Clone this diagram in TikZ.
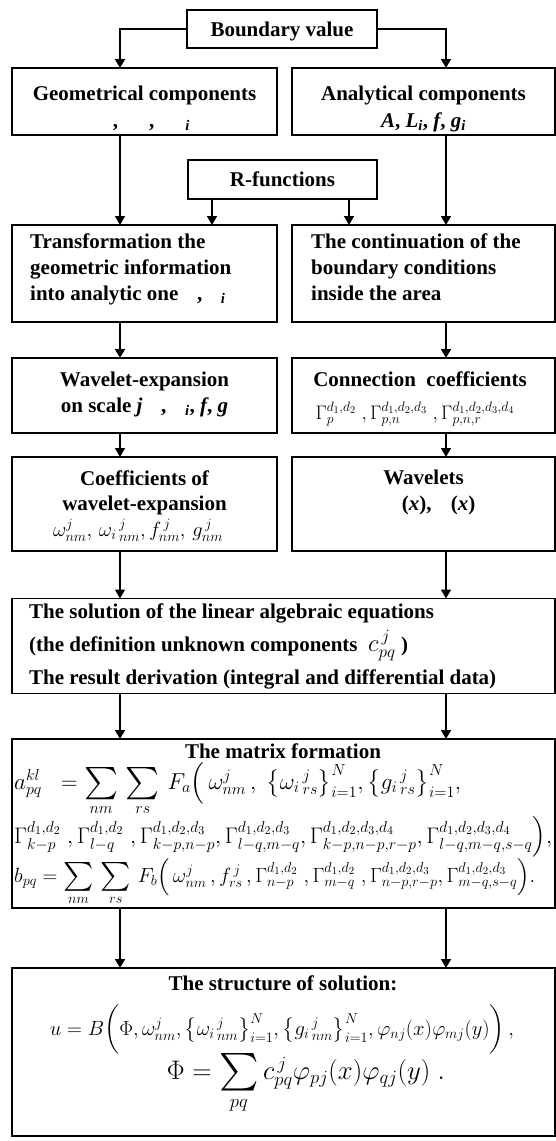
\documentclass[tikz,border=0pt]{standalone}
\usepackage{amsmath}
\usepackage[no-math]{fontspec}
\setmainfont{Liberation Serif}
\usetikzlibrary{arrows.meta}
\tikzset{
  box/.style={draw, line width=1.6pt, inner sep=0pt, outer sep=0pt},
  arr/.style={line width=1.6pt, -{Triangle[length=9pt,width=10pt]}},
  btxt/.style={font=\fontsize{21}{26}\selectfont\bfseries, inner sep=0pt},
  mtxt/.style={font=\fontsize{21}{26}\selectfont, inner sep=0pt},
}
\newcommand{\bsub}[1]{\textsubscript{\textit{#1}}}
\newcommand{\bigsum}{\mathop{\vcenter{\hbox{\scalebox{1.4}{$\textstyle\sum$}}}}\limits}
\begin{document}
\begin{tikzpicture}[x=1pt,y=-1pt]
\useasboundingbox (0,0) rectangle (556,1141);
% ---------- boxes ----------
\node[box, minimum width=190pt, minimum height=38pt] (bv) at (282,29) {};
\node[box, minimum width=265pt, minimum height=67pt] (geom) at (144.5,101.5) {};
\node[box, minimum width=263pt, minimum height=67pt] (anal) at (423.5,101.5) {};
\node[box, minimum width=189pt, minimum height=39pt] (rf) at (282.5,179.5) {};
\node[box, minimum width=265pt, minimum height=97pt] (trans) at (144.5,273.5) {};
\node[box, minimum width=263pt, minimum height=97pt] (cont) at (423.5,273.5) {};
\node[box, minimum width=265pt, minimum height=75pt] (wexp) at (144.5,395.5) {};
\node[box, minimum width=263pt, minimum height=75pt] (conn) at (423.5,395.5) {};
\node[box, minimum width=265pt, minimum height=94pt] (coef) at (144.5,504) {};
\node[box, minimum width=263pt, minimum height=94pt] (wav) at (423.5,504) {};
\node[box, minimum width=543pt, minimum height=95pt] (sol) at (283.5,646) {};
\node[box, minimum width=543pt, minimum height=169pt] (mat) at (283.5,823.5) {};
\node[box, minimum width=543pt, minimum height=168pt] (str) at (283.5,1052) {};
% ---------- texts ----------
\node[btxt, anchor=base] (bvt) at (282,36) {Boundary value};
\node[btxt, anchor=base] (geomt1) at (144.5,100) {Geometrical components};
\node[btxt, anchor=base] (geomt2) at (144.5,127) {\phantom{$\Omega$}, \phantom{$\partial\Omega$}, \phantom{$\partial\Omega$}\bsub{i}};
\node[btxt, anchor=base] (analt1) at (423.5,100) {Analytical components};
\node[btxt, anchor=base] (analt2) at (423.5,127) {\textit{A}, \textit{L}\bsub{i}, \textit{f}, \textit{g}\bsub{i}};
\node[btxt, anchor=base] (rft) at (282.5,186) {R-functions};
\node[btxt, anchor=base west] (transt1) at (30,248) {Transformation the};
\node[btxt, anchor=base west] (transt2) at (30,274) {geometric information};
\node[btxt, anchor=base west] (transt3) at (30,300) {into analytic one \phantom{$\omega$}, \phantom{$\omega$}\bsub{i}};
\node[btxt, anchor=base west] (contt1) at (311,248) {The continuation of the};
\node[btxt, anchor=base west] (contt2) at (311,274) {boundary conditions};
\node[btxt, anchor=base west] (contt3) at (311,300) {inside the area};
\node[btxt, anchor=base] (wexpt1) at (144.5,386) {Wavelet-expansion};
\node[btxt, anchor=base] (wexpt2) at (144.5,412) {on scale \textit{j} \phantom{$\omega$}, \phantom{$\omega$}\bsub{i}, \textit{f}, \textit{g}};
\node[btxt, anchor=base] (connt1) at (420,386) {Connection\ \ coefficients};
\node[mtxt, anchor=base] (connt2) at (415,419) {\resizebox{199pt}{!}{$\Gamma^{d_1,d_2}_{p}\;,\Gamma^{d_1,d_2,d_3}_{p,n}\;,\Gamma^{d_1,d_2,d_3,d_4}_{p,n,r}$}};
\node[btxt, anchor=base] (coeft1) at (144.5,485) {Coefficients of};
\node[btxt, anchor=base] (coeft2) at (144.5,510) {wavelet-expansion};
\node[mtxt, anchor=base] (coeft3) at (138,536) {\resizebox{170pt}{!}{$\omega^j_{nm},\,\omega_i{}^{\,j}_{\,nm},f^{\,j}_{nm},\,g^{\,j}_{nm}$}};
\node[btxt, anchor=base] (wavt1) at (423.5,484) {Wavelets};
\node[btxt, anchor=base] (wavt2) at (432,510) {\phantom{$\varphi$}(\textit{x}), \phantom{$\psi$}(\textit{x})};
\node[btxt, anchor=base west] (solt1) at (29,618) {The solution of the linear algebraic equations};
\node[btxt, anchor=base west] (solt2) at (29,651) {(the definition unknown components \ {\fontsize{25}{26}\selectfont$c^{\,j}_{pq}$}\ )};
\node[btxt, anchor=base west] (solt3) at (29,684) {The result derivation (integral and differential data)};
\node[btxt, anchor=base] (matt) at (283,758) {The matrix formation};
\node[mtxt, anchor=base west] (mata) at (14,789) {\resizebox{447pt}{!}{$a^{kl}_{pq}\;\;=\bigsum_{nm}\,\bigsum_{rs}\,F_a\Bigl(\,\omega^j_{nm}\,,\;\bigl\{\omega_i{}^{\,j}_{\,rs}\bigr\}^N_{i=1},\bigl\{g_i{}^{\,j}_{\,rs}\bigr\}^N_{i=1},$}};
\node[mtxt, anchor=base west] (matg) at (14,843) {\resizebox{538pt}{!}{$\Gamma^{d_1,d_2}_{k-p}\;,\Gamma^{d_1,d_2}_{l-q}\;,\Gamma^{d_1,d_2,d_3}_{k-p,n-p},\Gamma^{d_1,d_2,d_3}_{l-q,m-q},\Gamma^{d_1,d_2,d_3,d_4}_{k-p,n-p,r-p},\Gamma^{d_1,d_2,d_3,d_4}_{l-q,m-q,s-q}\Bigr),$}};
\node[mtxt, anchor=base west] (matb) at (14,882) {\resizebox{521pt}{!}{$b_{pq}=\bigsum_{nm}\,\bigsum_{rs}\,F_b\Bigl(\,\omega^j_{nm}\,,f^{\,j}_{rs}\,,\Gamma^{d_1,d_2}_{n-p}\;,\Gamma^{d_1,d_2}_{m-q}\;,\Gamma^{d_1,d_2,d_3}_{n-p,r-p},\Gamma^{d_1,d_2,d_3}_{m-q,s-q}\Bigr).$}};
\node[btxt, anchor=base] (strt) at (283,990) {The structure of solution:};
\node[mtxt, anchor=base] (stru) at (282,1035) {\resizebox{464pt}{!}{$u=B\biggl(\Phi,\omega^j_{nm},\bigl\{\omega_i{}^{\,j}_{\,nm}\bigr\}^N_{i=1},\bigl\{g_i{}^{\,j}_{\,nm}\bigr\}^N_{i=1},\varphi_{nj}(x)\varphi_{mj}(y)\biggr)\,,$}};
\node[mtxt, anchor=base] (strp) at (306,1079) {\resizebox{278pt}{!}{$\Phi=\bigsum_{pq}c^{\,j}_{pq}\varphi_{pj}(x)\varphi_{qj}(y)\;.$}};
% ---------- connectors ----------
\draw[arr] (bv.west) -| ([xshift=-24.5pt]geom.north);
\draw[arr] (bv.east) -| ([xshift=22.5pt]anal.north);
\draw[arr] ([xshift=-24.5pt]geom.south) -- ([xshift=-24.5pt]trans.north);
\draw[arr] ([xshift=22.5pt]anal.south) -- ([xshift=22.5pt]cont.north);
\draw[arr] ([xshift=-70.5pt]rf.south) -- ([xshift=-70.5pt]rf.south |- trans.north);
\draw[arr] ([xshift=66.5pt]rf.south) -- ([xshift=66.5pt]rf.south |- cont.north);
\draw[arr] ([xshift=-24.5pt]trans.south) -- ([xshift=-24.5pt]wexp.north);
\draw[arr] ([xshift=22.5pt]cont.south) -- ([xshift=22.5pt]conn.north);
\draw[arr] ([xshift=-24.5pt]wexp.south) -- ([xshift=-24.5pt]coef.north);
\draw[arr] ([xshift=22.5pt]conn.south) -- ([xshift=22.5pt]wav.north);
\draw[arr] ([xshift=-24.5pt]coef.south) -- ([xshift=-24.5pt]coef.south |- sol.north);
\draw[arr] ([xshift=22.5pt]wav.south) -- ([xshift=22.5pt]wav.south |- sol.north);
\draw[arr] ([xshift=-163.5pt]sol.south) -- ([xshift=-163.5pt]mat.north);
\draw[arr] ([xshift=162.5pt]sol.south) -- ([xshift=162.5pt]mat.north);
\draw[arr] ([xshift=-163.5pt]mat.south) -- ([xshift=-163.5pt]str.north);
\draw[arr] ([xshift=162.5pt]mat.south) -- ([xshift=162.5pt]str.north);
\end{tikzpicture}
\end{document}
